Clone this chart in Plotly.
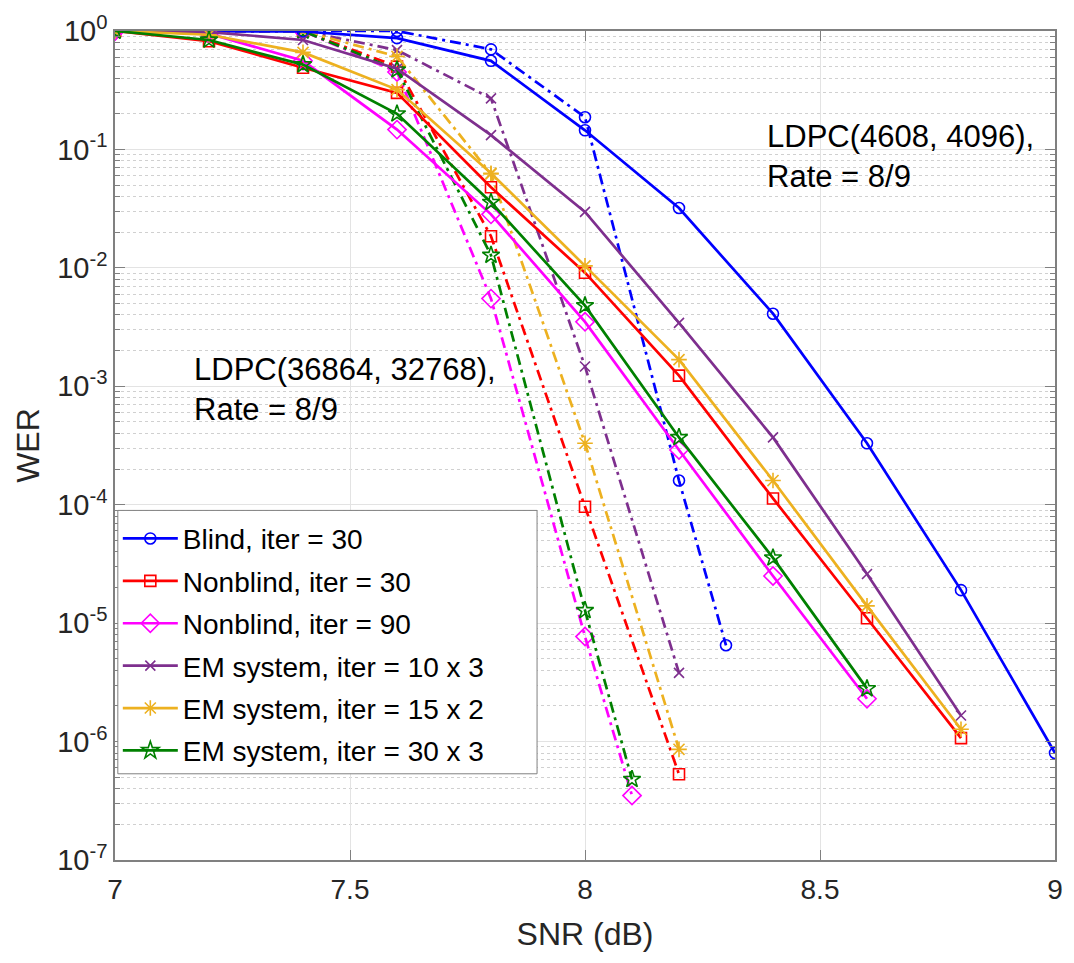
import numpy as np
import plotly.graph_objects as go

# ---------------- data ----------------
snr_solid = [7.0, 7.2, 7.4, 7.6, 7.8, 8.0, 8.2, 8.4, 8.6, 8.8, 9.0]

# LDPC(4608, 4096) – solid lines
blind_30 = [1.0, 1.0, 0.99, 0.87, 0.56, 0.145, 0.032, 0.0041, 3.3e-4, 1.9e-5, 8.0e-7]
nonblind_30 = [1.0, 0.82, 0.49, 0.30, 0.048, 0.0091, 0.00123, 1.13e-4, 1.1e-5, 1.07e-6]
nonblind_90 = [1.0, 0.95, 0.56, 0.147, 0.0283, 0.0035, 2.9e-4, 2.5e-5, 2.3e-6]
em_10x3 = [1.0, 0.98, 0.84, 0.48, 0.132, 0.0297, 0.00343, 3.7e-4, 2.6e-5, 1.66e-6]
em_15x2 = [1.0, 0.93, 0.66, 0.32, 0.063, 0.0104, 0.00168, 1.6e-4, 1.4e-5, 1.27e-6]
em_30x3 = [1.0, 0.84, 0.52, 0.20, 0.0358, 0.0048, 3.7e-4, 3.56e-5, 2.8e-6]

# LDPC(36864, 32768) – dash-dot lines
snr_blind_long = [7.0, 7.2, 7.4, 7.6, 7.8, 8.0, 8.2, 8.3]
blind_30_long = [1.0, 1.0, 1.0, 1.0, 0.70, 0.187, 1.6e-4, 6.5e-6]
snr_nb30_long = [7.0, 7.2, 7.4, 7.6, 7.8, 8.0, 8.2]
nonblind_30_long = [1.0, 1.0, 1.0, 0.50, 0.0185, 9.6e-5, 5.3e-7]
snr_nb90_long = [7.0, 7.2, 7.4, 7.6, 7.8, 8.0, 8.1]
nonblind_90_long = [1.0, 1.0, 1.0, 0.45, 0.0055, 7.7e-6, 3.5e-7]
snr_em10_long = [7.0, 7.2, 7.4, 7.6, 7.8, 8.0, 8.2]
em_10x3_long = [1.0, 1.0, 1.0, 0.69, 0.27, 0.00147, 3.8e-6]
snr_em15_long = [7.0, 7.2, 7.4, 7.6, 7.8, 8.0, 8.2]
em_15x2_long = [1.0, 1.0, 1.0, 0.61, 0.062, 3.3e-4, 8.6e-7]
snr_em30_long = [7.0, 7.2, 7.4, 7.6, 7.8, 8.0, 8.1]
em_30x3_long = [1.0, 1.0, 1.0, 0.47, 0.0128, 1.28e-5, 4.8e-7]

labels = ["Blind, iter = 30", "Nonblind, iter = 30", "Nonblind, iter = 90",
          "EM system, iter = 10 x 3", "EM system, iter = 15 x 2", "EM system, iter = 30 x 3"]

x_ticks = [7, 7.5, 8, 8.5, 9]
x_tick_text = ["7", "7.5", "8", "8.5", "9"]
y_exponents = [0, -1, -2, -3, -4, -5, -6, -7]

# ---------------- styles ----------------
colors = ["#0000FF", "#FF0000", "#FF00FF", "#7E2F8E", "#EDB120", "#008000"]
symbols = ["circle-open", "square-open", "diamond-open", "x-thin-open", "asterisk-open", "star-open"]
msizes = [11, 11, 14, 10, 13, 13]
LW = 2.7
DASHDOT = "11px,5px,3px,5px"
FONT = "Liberation Sans, Arial, Helvetica, sans-serif"

solid_x = [snr_solid[:len(v)] for v in [blind_30, nonblind_30, nonblind_90, em_10x3, em_15x2, em_30x3]]
solid_y = [blind_30, nonblind_30, nonblind_90, em_10x3, em_15x2, em_30x3]
long_x = [snr_blind_long, snr_nb30_long, snr_nb90_long, snr_em10_long, snr_em15_long, snr_em30_long]
long_y = [blind_30_long, nonblind_30_long, nonblind_90_long, em_10x3_long, em_15x2_long, em_30x3_long]

fig = go.Figure()

for i in range(6):
    fig.add_trace(go.Scatter(
        x=long_x[i], y=long_y[i], mode="lines+markers", showlegend=False,
        line=dict(color=colors[i], width=LW, dash=DASHDOT),
        marker=dict(symbol=symbols[i], size=msizes[i], color=colors[i],
                    line=dict(color=colors[i], width=1.6)),
    ))

for i in range(6):
    fig.add_trace(go.Scatter(
        x=solid_x[i], y=solid_y[i], mode="lines+markers", name=labels[i],
        legendgroup=f"g{i}",
        line=dict(color=colors[i], width=LW),
        marker=dict(symbol=symbols[i], size=msizes[i], color=colors[i],
                    line=dict(color=colors[i], width=1.6)),
    ))

# minor tick values for the log axis
minor_vals = [k * 10.0 ** e for e in range(-7, 0) for k in range(2, 10)]

# legend frame (MATLAB-style box, wider than the text)
LEG_X0, LEG_X1, LEG_Y0, LEG_Y1 = 0.003, 0.449, 0.104, 0.4217

fig.update_layout(
    width=1074, height=963,
    margin=dict(l=115, r=11, t=23, b=103),
    paper_bgcolor="white", plot_bgcolor="white",
    font=dict(family=FONT, color="#262626", size=28),
    legend=dict(
        x=LEG_X0, y=LEG_Y1 - 0.004, xanchor="left", yanchor="top",
        bgcolor="rgba(0,0,0,0)", borderwidth=0,
        font=dict(size=28, color="black"), tracegroupgap=3,
        itemwidth=55,
    ),
    shapes=[dict(type="rect", xref="paper", yref="paper",
                 x0=LEG_X0, x1=LEG_X1, y0=LEG_Y0, y1=LEG_Y1,
                 fillcolor="white", line=dict(color="#808080", width=1),
                 layer="above")],
    annotations=[
        dict(text="LDPC(4608, 4096),<br>Rate = 8/9", xref="paper", yref="paper",
             x=0.691, y=0.849, xanchor="left", yanchor="middle", align="left",
             showarrow=False, font=dict(size=31, color="black", family=FONT)),
        dict(text="LDPC(36864, 32768),<br>Rate = 8/9", xref="paper", yref="paper",
             x=0.082, y=0.568, xanchor="left", yanchor="middle", align="left",
             showarrow=False, font=dict(size=31, color="black", family=FONT)),
    ],
)

fig.update_xaxes(
    range=[7, 9], tickmode="array", tickvals=x_ticks, ticktext=x_tick_text,
    ticks="inside", ticklen=10, tickcolor="#808080", tickwidth=1,
    showline=True, linecolor="#808080", linewidth=1.5, mirror="allticks",
    showgrid=True, gridcolor="#e3e3e3", gridwidth=1, zeroline=False,
    tickfont=dict(size=28, color="#262626"), ticklabelstandoff=4,
    title=dict(text="SNR (dB)", font=dict(size=32, color="#262626"), standoff=18),
)

fig.update_yaxes(
    type="log", range=[-7, 0], tickmode="array",
    tickvals=[10.0 ** e for e in y_exponents],
    ticktext=[f"10<sup>{e}</sup>" for e in y_exponents],
    ticks="inside", ticklen=10, tickcolor="#808080", tickwidth=1,
    showline=True, linecolor="#808080", linewidth=1.5, mirror="allticks",
    showgrid=True, gridcolor="#e3e3e3", gridwidth=1, zeroline=False,
    tickfont=dict(size=29, color="#262626"),
    minor=dict(tickmode="array", tickvals=minor_vals, ticks="inside", ticklen=5,
               tickcolor="#808080", showgrid=True, gridcolor="#d0d0d0",
               griddash="dot", gridwidth=1),
    title=dict(text="WER", font=dict(size=32, color="#262626"), standoff=8),
)

fig.write_html("out.html")
